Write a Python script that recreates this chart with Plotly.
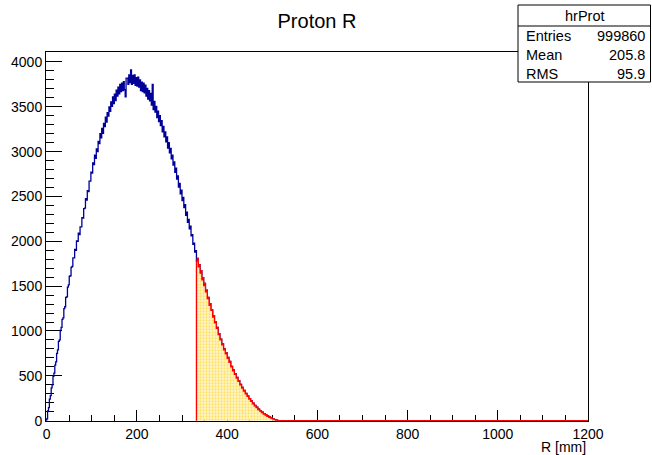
import numpy as np
import plotly.graph_objects as go

# ---- data: hrProt, counts per bin (2 mm bins starting at R = 0) ----
bin_width = 2
counts = [
    20, 110, 145, 240, 280, 365, 400, 495, 530, 620,
    655, 750, 790, 885, 900, 1005, 1040, 1130, 1145, 1250,
    1270, 1375, 1380, 1490, 1515, 1610, 1615, 1710, 1720, 1815,
    1815, 1910, 1900, 2005, 2000, 2090, 2075, 2160, 2160, 2265,
    2260, 2365, 2370, 2475, 2460, 2565, 2555, 2670, 2670, 2770,
    2760, 2875, 2855, 2960, 2925, 3030, 3000, 3115, 3090, 3200,
    3155, 3260, 3205, 3315, 3280, 3385, 3330, 3435, 3395, 3500,
    3450, 3555, 3505, 3610, 3535, 3640, 3570, 3685, 3620, 3720,
    3645, 3750, 3670, 3765, 3680, 3780, 3690, 3610, 3820, 3820,
    3750, 3855, 3770, 3910, 3750, 3850, 3760, 3855, 3740, 3825,
    3730, 3830, 3720, 3800, 3680, 3775, 3670, 3765, 3655, 3740,
    3620, 3705, 3585, 3680, 3565, 3650, 3520, 3750, 3470, 3560,
    3440, 3505, 3380, 3450, 3335, 3400, 3290, 3345, 3220, 3280,
    3165, 3220, 3110, 3165, 3040, 3100, 2985, 3035, 2920, 2960,
    2850, 2885, 2770, 2815, 2695, 2730, 2605, 2645, 2530, 2570,
    2455, 2490, 2375, 2410, 2290, 2325, 2210, 2245, 2140, 2170,
    2060, 2075, 1965, 1980, 1880, 1895, 1780, 1810, 1715, 1740,
    1645, 1670, 1570, 1595, 1505, 1530, 1435, 1455, 1360, 1375,
    1285, 1305, 1230, 1235, 1155, 1170, 1090, 1105, 1030, 1040,
    960, 970, 900, 910, 845, 855, 790, 800, 745, 755,
    695, 705, 650, 660, 600, 605, 555, 565, 515, 525,
    475, 482, 438, 445, 398, 405, 363, 372, 330, 337,
    300, 305, 270, 277, 240, 245, 214, 220, 188, 194,
    166, 170, 145, 150, 124, 129, 107, 111, 90, 94,
    74, 78, 61, 66, 49, 53, 38, 41, 28, 31,
    19, 21, 11, 12, 5, 6, 1, 1,
]
r_axis_max = 1200
cut_r = 332          # lower edge of the highlighted (red/yellow) range
title = "Proton R"
x_title = "R [mm]"
stats_name = "hrProt"
stats_rows = [("Entries", "999860"), ("Mean", "205.8"), ("RMS", "95.9")]
x_ticks = [0, 200, 400, 600, 800, 1000, 1200]
y_ticks = [0, 500, 1000, 1500, 2000, 2500, 3000, 3500, 4000]

edges = np.arange(len(counts) + 1) * bin_width
cnt = list(counts)

# full histogram outline (blue)
bx = [0] + list(edges[:-1]) + [edges[-1], r_axis_max]
by = [0] + cnt + [0, 0]

# highlighted tail (red outline, yellow fill)
i0 = int(cut_r // bin_width)
rx = [edges[i0]] + list(edges[i0:-1]) + [edges[-1], r_axis_max]
ry = [0] + cnt[i0:] + [0, 0]

FONT = "Liberation Sans, Arial, Helvetica, sans-serif"

fig = go.Figure()
fig.add_trace(go.Scatter(
    x=bx, y=by, mode="lines", line=dict(color="#000099", width=1.3, shape="hv"),
    hoverinfo="skip", showlegend=False))
fig.add_trace(go.Scatter(
    x=rx, y=ry, mode="lines", line=dict(color="#ff0000", width=1.3, shape="hv"),
    fill="tozeroy",
    fillpattern=dict(shape=".", fgcolor="#ffcc00", bgcolor="#fff6d0", size=3, solidity=0.45),
    hoverinfo="skip", showlegend=False))

W, H = 652, 455
L, R, T, B = 46, 64, 52, 34
pw, ph = W - L - R, H - T - B


def px2x(px):
    return (px - L) / pw


def py2y(py):
    return (H - B - py) / ph


fig.update_layout(
    width=W, height=H,
    margin=dict(l=L, r=R, t=T, b=B, pad=0),
    paper_bgcolor="white", plot_bgcolor="white",
    font=dict(family=FONT, size=14, color="black"),
    title=dict(text=title, x=0.5, xref="paper", xanchor="center",
               y=1 - 21 / H, yref="container", yanchor="middle",
               font=dict(family=FONT, size=20, color="black")),
    xaxis=dict(range=[-1.5, r_axis_max], tickvals=x_ticks,
               ticks="inside", ticklen=11, tickwidth=1, tickcolor="black",
               minor=dict(dtick=50, ticks="inside", ticklen=6, tickwidth=1, tickcolor="black"),
               showline=True, linecolor="black", linewidth=1, mirror=True,
               showgrid=False, zeroline=False, layer="below traces",
               tickfont=dict(family=FONT, size=14, color="black")),
    yaxis=dict(range=[-4, 4111], tickvals=y_ticks,
               ticks="inside", ticklen=16, tickwidth=1, tickcolor="black",
               minor=dict(dtick=100, ticks="inside", ticklen=8, tickwidth=1, tickcolor="black"),
               showline=True, linecolor="black", linewidth=1, mirror=True,
               showgrid=False, zeroline=False, layer="below traces",
               tickfont=dict(family=FONT, size=14, color="black")),
)

# x-axis title (right aligned at the frame edge)
fig.add_annotation(text=x_title, xref="paper", yref="paper", x=1.0, y=py2y(447),
                   xanchor="right", yanchor="middle", showarrow=False,
                   font=dict(family=FONT, size=14, color="black"))

# statistics box
bx0, bx1, by0, by1 = px2x(518), px2x(650.5), py2y(82), py2y(5)
fig.add_shape(type="rect", xref="paper", yref="paper", x0=bx0, x1=bx1, y0=by0, y1=by1,
              line=dict(color="black", width=1), fillcolor="white", layer="above")
fig.add_shape(type="line", xref="paper", yref="paper", x0=bx0, x1=bx1,
              y0=py2y(26), y1=py2y(26), line=dict(color="black", width=1), layer="above")
fig.add_annotation(text=stats_name, xref="paper", yref="paper", x=px2x(584.5), y=py2y(16),
                   xanchor="center", yanchor="middle", showarrow=False,
                   font=dict(family=FONT, size=14.5, color="black"))
row_y = [36.5, 55, 74]
for (lab, val), yy in zip(stats_rows, row_y):
    fig.add_annotation(text=lab, xref="paper", yref="paper", x=px2x(524), y=py2y(yy),
                       xanchor="left", yanchor="middle", showarrow=False,
                       font=dict(family=FONT, size=14.5, color="black"))
    fig.add_annotation(text=val, xref="paper", yref="paper", x=px2x(646.5), y=py2y(yy),
                       xanchor="right", yanchor="middle", showarrow=False,
                       font=dict(family=FONT, size=14.5, color="black"))

fig.write_html("out.html")
